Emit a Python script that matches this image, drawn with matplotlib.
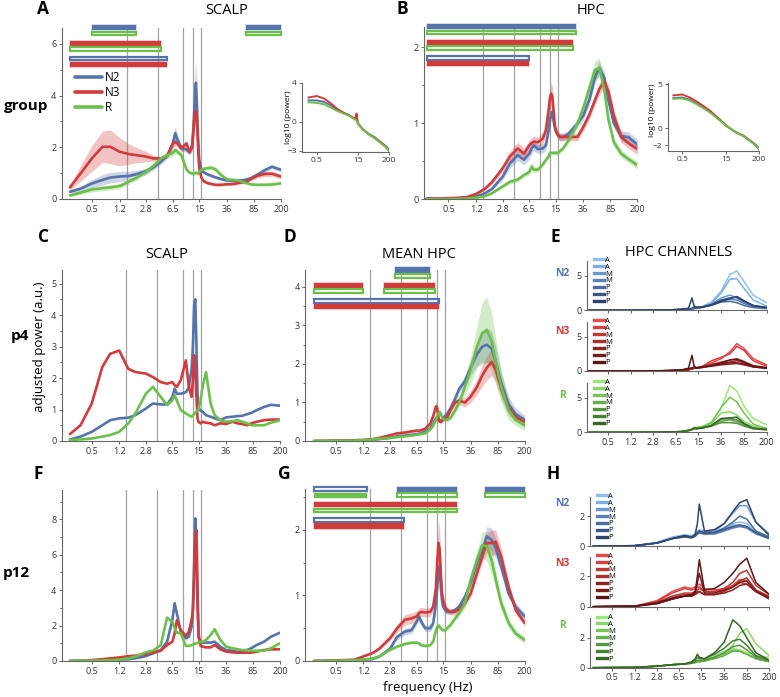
import matplotlib.pyplot as plt
from matplotlib.patches import Rectangle
from matplotlib.colors import to_rgb

plt.rcParams['font.family'] = ['Open Sans', 'DejaVu Sans']

W, H = 780, 697
blue, red, green = '#5673ab', '#d13b3b', '#6cbf4a'
stage_col = {'N2': blue, 'N3': red, 'R': green}

xticks = [0.5, 1.2, 2.8, 6.5, 15, 36, 85, 200]
xtick_labels = ['0.5', '1.2', '2.8', '6.5', '15', '36', '85', '200']
band_edges = [1.5, 4, 9, 12.5, 16]

freqs = [0.25, 0.35, 0.5, 0.7, 0.9, 1.2, 1.6, 2.0, 2.8, 3.5,
         4.5, 5.5, 6.5, 7, 7.5, 8.5, 10, 11, 12, 12.5,
         13, 13.5, 14, 14.5, 15, 16, 17, 19, 22, 25,
         30, 36, 44, 52, 60, 70, 80, 95, 120, 150, 200]

# A: group scalp
a_n2 = [0.28, 0.40, 0.60, 0.74, 0.83, 0.87, 0.89, 0.95, 1.08, 1.22,
        1.45, 1.70, 2.15, 2.55, 2.30, 1.97, 1.92, 1.80, 2.10, 2.80,
        3.80, 4.50, 3.50, 2.30, 1.50, 1.15, 1.05, 0.97, 0.90, 0.84,
        0.77, 0.72, 0.70, 0.71, 0.73, 0.77, 0.83, 0.95, 1.12, 1.25, 1.13]
a_n3 = [0.45, 0.99, 1.57, 2.02, 2.02, 1.83, 1.74, 1.70, 1.64, 1.57,
        1.57, 1.70, 2.15, 2.20, 2.15, 1.96, 2.15, 1.83, 2.00, 2.67,
        3.30, 3.42, 2.93, 1.90, 1.19, 0.84, 0.71, 0.63, 0.58, 0.55,
        0.55, 0.57, 0.58, 0.62, 0.65, 0.70, 0.80, 0.90, 0.97, 0.98, 0.87]
a_r = [0.14, 0.25, 0.37, 0.42, 0.45, 0.50, 0.67, 0.80, 1.06, 1.28,
       1.57, 1.70, 1.79, 1.89, 1.83, 1.70, 1.15, 1.02, 0.99, 0.99,
       1.00, 1.01, 1.00, 0.99, 1.06, 1.12, 1.16, 1.19, 1.21, 1.15,
       0.93, 0.76, 0.74, 0.72, 0.65, 0.60, 0.56, 0.55, 0.55, 0.56, 0.61]
a_n2_sem = [0.05, 0.10, 0.15, 0.20, 0.20, 0.20, 0.18, 0.15, 0.12, 0.10,
            0.10, 0.12, 0.20, 0.25, 0.20, 0.12, 0.10, 0.10, 0.20, 0.40,
            0.70, 0.90, 0.60, 0.30, 0.15, 0.10, 0.08, 0.07, 0.06, 0.06,
            0.05, 0.05, 0.05, 0.05, 0.05, 0.05, 0.06, 0.07, 0.08, 0.08, 0.08]
a_n3_sem = [0.10, 0.30, 0.50, 0.60, 0.65, 0.55, 0.40, 0.30, 0.20, 0.12,
            0.08, 0.10, 0.15, 0.15, 0.15, 0.15, 0.12, 0.10, 0.15, 0.30,
            0.50, 0.60, 0.40, 0.20, 0.10, 0.08, 0.07, 0.06, 0.05, 0.05,
            0.05, 0.05, 0.05, 0.05, 0.06, 0.06, 0.07, 0.08, 0.10, 0.10, 0.10]
a_r_sem = [0.05, 0.08, 0.10, 0.10, 0.10, 0.10, 0.10, 0.10, 0.10, 0.10,
           0.10, 0.12, 0.15, 0.15, 0.12, 0.10, 0.08, 0.07, 0.07, 0.07,
           0.07, 0.07, 0.07, 0.07, 0.07, 0.08, 0.08, 0.08, 0.08, 0.08,
           0.07, 0.06, 0.05, 0.05, 0.05, 0.05, 0.05, 0.05, 0.05, 0.05, 0.05]

# B: group hpc
b_n2 = [0.005, 0.007, 0.01, 0.015, 0.02, 0.035, 0.08, 0.14, 0.30, 0.47,
        0.58, 0.52, 0.60, 0.67, 0.71, 0.66, 0.67, 0.71, 0.91, 1.04,
        1.13, 1.15, 1.04, 0.96, 0.90, 0.85, 0.82, 0.82, 0.85, 0.91,
        1.00, 1.10, 1.32, 1.60, 1.73, 1.60, 1.30, 1.00, 0.83, 0.82, 0.72]
b_n3 = [0.01, 0.01, 0.015, 0.02, 0.03, 0.07, 0.14, 0.23, 0.41, 0.56,
        0.67, 0.60, 0.71, 0.74, 0.76, 0.75, 0.80, 0.91, 1.18, 1.33,
        1.39, 1.35, 1.18, 1.00, 0.91, 0.85, 0.82, 0.82, 0.82, 0.82,
        0.82, 0.95, 1.12, 1.30, 1.45, 1.55, 1.42, 1.10, 0.82, 0.74, 0.66]
b_r = [0.0, 0.0, 0.003, 0.005, 0.01, 0.02, 0.04, 0.08, 0.17, 0.23,
       0.26, 0.32, 0.36, 0.43, 0.39, 0.39, 0.46, 0.52, 0.56, 0.61,
       0.61, 0.61, 0.61, 0.61, 0.61, 0.61, 0.63, 0.67, 0.76, 0.85,
       1.00, 1.20, 1.47, 1.70, 1.73, 1.45, 1.05, 0.75, 0.60, 0.53, 0.45]
b_n2_sem = [0, 0, 0, 0, 0, 0.005, 0.01, 0.02, 0.04, 0.06,
            0.07, 0.07, 0.07, 0.07, 0.07, 0.06, 0.06, 0.06, 0.07, 0.08,
            0.08, 0.08, 0.07, 0.06, 0.05, 0.05, 0.05, 0.05, 0.05, 0.05,
            0.05, 0.06, 0.07, 0.08, 0.09, 0.08, 0.07, 0.07, 0.07, 0.07, 0.07]
b_n3_sem = [0, 0, 0, 0, 0.005, 0.01, 0.02, 0.03, 0.05, 0.07,
            0.08, 0.07, 0.07, 0.07, 0.07, 0.07, 0.07, 0.08, 0.10, 0.12,
            0.15, 0.13, 0.10, 0.08, 0.06, 0.05, 0.05, 0.05, 0.05, 0.05,
            0.05, 0.06, 0.06, 0.07, 0.08, 0.08, 0.08, 0.07, 0.07, 0.07, 0.07]
b_r_sem = [0, 0, 0, 0, 0, 0.005, 0.005, 0.01, 0.02, 0.03,
           0.03, 0.03, 0.04, 0.05, 0.04, 0.03, 0.03, 0.03, 0.03, 0.03,
           0.03, 0.03, 0.03, 0.03, 0.03, 0.03, 0.03, 0.03, 0.04, 0.05,
           0.06, 0.08, 0.10, 0.12, 0.12, 0.10, 0.08, 0.06, 0.05, 0.05, 0.05]

# C: p4 scalp
c_n2 = [0.05, 0.14, 0.29, 0.50, 0.66, 0.72, 0.74, 0.82, 1.03, 1.19,
        1.16, 1.16, 1.40, 1.66, 1.50, 1.50, 1.55, 1.70, 2.30, 3.00,
        4.30, 4.50, 3.00, 1.50, 1.05, 0.96, 0.93, 0.82, 0.77, 0.72,
        0.66, 0.75, 0.77, 0.79, 0.80, 0.85, 0.89, 0.98, 1.08, 1.15, 1.12]
c_n3 = [0.22, 0.50, 1.19, 2.35, 2.77, 2.87, 2.29, 2.19, 2.14, 2.03,
        1.87, 1.82, 1.87, 1.77, 1.72, 1.93, 2.56, 1.72, 1.40, 1.93,
        2.72, 2.40, 1.40, 0.70, 0.61, 0.56, 0.61, 0.58, 0.56, 0.50,
        0.56, 0.54, 0.61, 0.56, 0.54, 0.50, 0.56, 0.61, 0.66, 0.68, 0.68]
c_r = [0.03, 0.05, 0.08, 0.14, 0.19, 0.29, 0.56, 0.87, 1.50, 1.72,
       1.40, 1.14, 1.29, 1.45, 1.29, 0.98, 0.87, 0.82, 0.77, 0.80,
       0.87, 0.90, 0.93, 0.97, 1.03, 1.29, 1.72, 2.19, 1.19, 0.82,
       0.66, 0.61, 0.63, 0.66, 0.61, 0.56, 0.50, 0.50, 0.50, 0.58, 0.66]

# D: p4 mean hpc
d_n2 = [0.0, 0.0, 0.003, 0.005, 0.01, 0.015, 0.03, 0.05, 0.08, 0.12,
        0.14, 0.16, 0.18, 0.19, 0.20, 0.24, 0.32, 0.45, 0.60, 0.60,
        0.55, 0.52, 0.52, 0.55, 0.60, 0.65, 0.70, 0.85, 1.10, 1.35,
        1.55, 1.90, 2.25, 2.45, 2.50, 2.40, 2.05, 1.50, 0.95, 0.70, 0.55]
d_n3 = [0.0, 0.003, 0.01, 0.015, 0.02, 0.03, 0.05, 0.08, 0.15, 0.20,
        0.22, 0.25, 0.27, 0.27, 0.28, 0.32, 0.45, 0.65, 0.90, 0.85,
        0.60, 0.50, 0.50, 0.52, 0.55, 0.58, 0.60, 0.80, 1.00, 1.05,
        1.00, 1.15, 1.40, 1.70, 1.90, 2.05, 1.85, 1.35, 0.85, 0.62, 0.50]
d_r = [0.0, 0.0, 0.003, 0.005, 0.01, 0.02, 0.04, 0.06, 0.08, 0.10,
       0.12, 0.14, 0.16, 0.17, 0.18, 0.20, 0.30, 0.40, 0.55, 0.65,
       0.72, 0.75, 0.70, 0.62, 0.58, 0.55, 0.55, 0.60, 0.80, 1.00,
       1.40, 1.85, 2.45, 2.80, 2.88, 2.60, 2.05, 1.40, 0.80, 0.55, 0.40]
d_n2_sem = [0, 0, 0, 0, 0, 0, 0, 0.005, 0.01, 0.01,
            0.01, 0.02, 0.02, 0.02, 0.02, 0.02, 0.03, 0.04, 0.05, 0.05,
            0.05, 0.05, 0.05, 0.05, 0.05, 0.05, 0.05, 0.06, 0.08, 0.10,
            0.15, 0.20, 0.30, 0.40, 0.45, 0.45, 0.40, 0.30, 0.20, 0.15, 0.12]
d_n3_sem = [0, 0, 0, 0, 0, 0, 0.005, 0.01, 0.02, 0.03,
            0.03, 0.03, 0.03, 0.03, 0.03, 0.03, 0.05, 0.08, 0.10, 0.10,
            0.08, 0.06, 0.05, 0.05, 0.05, 0.05, 0.05, 0.06, 0.08, 0.10,
            0.12, 0.15, 0.20, 0.28, 0.32, 0.35, 0.32, 0.25, 0.18, 0.12, 0.10]
d_r_sem = [0, 0, 0, 0, 0, 0, 0, 0.005, 0.01, 0.01,
           0.01, 0.01, 0.01, 0.01, 0.01, 0.02, 0.03, 0.04, 0.05, 0.06,
           0.07, 0.07, 0.06, 0.05, 0.05, 0.05, 0.05, 0.06, 0.08, 0.12,
           0.20, 0.35, 0.55, 0.80, 0.85, 0.75, 0.60, 0.40, 0.25, 0.15, 0.12]

# F: p12 scalp
f_n2 = [0.0, 0.01, 0.02, 0.03, 0.05, 0.08, 0.10, 0.15, 0.28, 0.43,
        0.62, 1.09, 2.30, 3.26, 2.70, 1.66, 1.28, 1.37, 1.94, 3.00,
        5.50, 8.06, 6.00, 3.00, 1.30, 1.09, 1.04, 1.04, 1.04, 1.09,
        0.81, 0.62, 0.58, 0.53, 0.56, 0.62, 0.72, 0.90, 1.09, 1.37, 1.60]
f_n3 = [0.0, 0.02, 0.05, 0.10, 0.15, 0.20, 0.27, 0.30, 0.40, 0.47,
        0.58, 0.90, 1.09, 1.56, 2.30, 1.75, 1.41, 1.66, 2.32, 2.80,
        4.50, 7.00, 7.40, 4.00, 1.50, 0.85, 0.81, 0.77, 0.77, 0.90,
        0.66, 0.53, 0.49, 0.47, 0.47, 0.47, 0.47, 0.53, 0.62, 0.66, 0.66]
f_r = [0.0, 0.01, 0.02, 0.03, 0.05, 0.08, 0.15, 0.25, 0.49, 0.58,
       0.90, 2.45, 2.20, 1.85, 1.60, 1.56, 0.85, 0.85, 0.90, 0.93,
       0.96, 0.98, 1.00, 1.02, 1.04, 1.09, 1.09, 1.19, 1.47, 1.79,
       1.19, 0.81, 0.72, 0.66, 0.62, 0.62, 0.58, 0.58, 0.58, 0.72, 1.00]

# G: p12 mean hpc
g_n2 = [0.0, 0.0, 0.005, 0.007, 0.01, 0.02, 0.03, 0.07, 0.19, 0.37,
        0.45, 0.47, 0.60, 0.68, 0.60, 0.50, 0.50, 0.58, 0.88, 1.13,
        1.44, 1.39, 1.13, 0.93, 0.83, 0.78, 0.75, 0.75, 0.78, 0.83,
        0.98, 1.19, 1.49, 1.69, 1.90, 1.85, 1.72, 1.44, 1.03, 0.83, 0.68]
g_n3 = [0.0, 0.005, 0.01, 0.015, 0.02, 0.07, 0.12, 0.19, 0.35, 0.50,
        0.63, 0.65, 0.68, 0.73, 0.75, 0.74, 0.75, 0.83, 1.13, 1.54,
        1.80, 1.69, 1.34, 1.03, 0.93, 0.83, 0.78, 0.75, 0.75, 0.79,
        0.88, 1.03, 1.34, 1.59, 1.80, 1.80, 1.82, 1.59, 1.13, 0.78, 0.58]
g_r = [0.0, 0.0, 0.005, 0.007, 0.01, 0.02, 0.04, 0.07, 0.17, 0.22,
       0.26, 0.28, 0.28, 0.27, 0.24, 0.23, 0.24, 0.30, 0.47, 0.52,
       0.54, 0.52, 0.50, 0.48, 0.47, 0.47, 0.50, 0.55, 0.65, 0.73,
       0.88, 1.24, 1.54, 1.77, 1.75, 1.54, 1.24, 0.88, 0.58, 0.42, 0.32]
g_n2_sem = [0, 0, 0, 0, 0, 0, 0.005, 0.01, 0.02, 0.04,
            0.05, 0.05, 0.05, 0.05, 0.05, 0.05, 0.05, 0.05, 0.08, 0.12,
            0.15, 0.15, 0.12, 0.08, 0.05, 0.04, 0.04, 0.04, 0.04, 0.05,
            0.05, 0.06, 0.08, 0.10, 0.15, 0.18, 0.15, 0.10, 0.07, 0.06, 0.05]
g_n3_sem = [0, 0, 0, 0, 0, 0.01, 0.01, 0.02, 0.04, 0.06,
            0.08, 0.08, 0.08, 0.08, 0.07, 0.07, 0.07, 0.08, 0.12, 0.25,
            0.35, 0.30, 0.20, 0.12, 0.08, 0.06, 0.05, 0.05, 0.05, 0.05,
            0.05, 0.06, 0.08, 0.10, 0.15, 0.20, 0.18, 0.12, 0.08, 0.06, 0.05]
g_r_sem = [0, 0, 0, 0, 0, 0, 0.005, 0.01, 0.01, 0.02,
           0.02, 0.02, 0.02, 0.02, 0.02, 0.02, 0.02, 0.02, 0.03, 0.03,
           0.04, 0.04, 0.03, 0.03, 0.03, 0.03, 0.03, 0.03, 0.04, 0.05,
           0.07, 0.10, 0.15, 0.20, 0.22, 0.20, 0.15, 0.10, 0.07, 0.06, 0.05]

# insets: log10 power
inset_f = [0.25, 0.5, 0.9, 1.6, 2.8, 4.5, 7, 10, 12.5, 13.5, 15, 22, 36, 60, 95, 150, 200]
ia_n2 = [2.2, 2.2, 2.05, 1.7, 1.2, 0.9, 0.7, 0.4, 0.4, 0.65, -0.15, -0.75, -1.25, -1.6, -2.05, -2.5, -2.9]
ia_n3 = [2.5, 2.65, 2.4, 1.9, 1.3, 0.95, 0.7, 0.4, 0.4, 0.85, -0.15, -0.75, -1.25, -1.65, -2.1, -2.55, -2.95]
ia_r = [2.0, 1.95, 1.8, 1.45, 1.1, 0.85, 0.65, 0.35, 0.2, 0.1, -0.1, -0.75, -1.3, -1.7, -2.15, -2.6, -3.05]
ib_n2 = [3.45, 3.5, 3.25, 2.8, 2.3, 1.85, 1.3, 0.85, 0.55, 0.45, 0.3, -0.1, -0.55, -0.9, -1.4, -1.9, -2.4]
ib_n3 = [3.75, 3.85, 3.5, 3.0, 2.45, 1.95, 1.35, 0.9, 0.55, 0.45, 0.3, -0.1, -0.55, -0.9, -1.4, -1.9, -2.35]
ib_r = [3.35, 3.4, 3.15, 2.7, 2.2, 1.75, 1.2, 0.8, 0.5, 0.4, 0.25, -0.1, -0.55, -0.95, -1.45, -1.95, -2.45]

# significant ranges: (stage, stage, f_from, f_to, higher stage)
a_sig = [('N2', 'R', 0.5, 2.0, 'N2'), ('N2', 'R', 66, 200, 'N2'),
         ('N3', 'R', 0.25, 4.4, 'N3'), ('N2', 'N3', 0.25, 5.45, 'N3')]
b_sig = [('N2', 'R', 0.25, 29, 'N2'), ('N3', 'R', 0.25, 25.7, 'N3'),
         ('N2', 'N3', 0.25, 6.4, 'N3')]
d_sig = [('N2', 'R', 3.3, 9.9, 'N2'), ('N3', 'R', 0.25, 1.2, 'N3'),
         ('N3', 'R', 2.33, 11.6, 'N3'), ('N2', 'N3', 0.25, 13.2, 'N3')]
g_sig = [('N2', 'R', 0.25, 1.36, 'R'), ('N2', 'R', 3.45, 23, 'N2'),
         ('N2', 'R', 56.6, 200, 'N2'), ('N3', 'R', 0.25, 23.6, 'N3'),
         ('N2', 'N3', 0.25, 4.4, 'N3')]

# hpc channels
chan_freqs = [0.25, 1.2, 2.8, 5, 8, 10.5, 12, 13, 14, 17, 25, 36, 50, 65, 85, 120, 200]
chan_names = ['A', 'A', 'M', 'M', 'P', 'P', 'P']
e_n2 = [[0, 0, 0.02, 0.05, 0.1, 0.15, 0.25, 0.3, 0.35, 0.5, 1.2, 2.8, 5.2, 5.7, 4.2, 2.2, 1.1],
        [0, 0, 0.02, 0.05, 0.1, 0.15, 0.2, 0.3, 0.3, 0.45, 1.0, 2.5, 4.5, 4.6, 3.2, 1.5, 0.6],
        [0, 0, 0.02, 0.05, 0.1, 0.15, 0.2, 0.3, 0.3, 0.4, 0.9, 1.8, 2.2, 1.8, 1.1, 0.6, 0.35],
        [0, 0, 0.02, 0.05, 0.1, 0.12, 0.18, 0.25, 0.3, 0.4, 0.8, 1.4, 1.6, 1.5, 1.0, 0.5, 0.3],
        [0, 0, 0.02, 0.05, 0.1, 0.15, 0.2, 0.3, 0.3, 0.4, 0.7, 1.2, 1.3, 1.1, 0.7, 0.4, 0.25],
        [0, 0, 0.02, 0.05, 0.15, 0.2, 0.3, 0.5, 0.3, 0.45, 0.8, 1.5, 1.8, 1.9, 1.3, 0.7, 0.4],
        [0, 0, 0.02, 0.06, 0.15, 0.3, 1.8, 0.6, 0.5, 0.45, 0.8, 1.3, 1.7, 2.0, 1.4, 0.7, 0.4]]
e_n3 = [[0, 0, 0.02, 0.05, 0.12, 0.2, 0.35, 0.45, 0.45, 0.6, 1.2, 1.8, 2.8, 4.0, 3.3, 1.8, 0.9],
        [0, 0, 0.02, 0.05, 0.12, 0.2, 0.35, 0.45, 0.45, 0.6, 1.5, 2.0, 2.5, 3.6, 3.0, 1.5, 0.7],
        [0, 0, 0.02, 0.05, 0.1, 0.18, 0.3, 0.4, 0.4, 0.55, 1.0, 1.3, 1.6, 1.8, 1.4, 0.8, 0.5],
        [0, 0, 0.02, 0.05, 0.1, 0.18, 0.3, 0.4, 0.4, 0.5, 0.8, 1.1, 1.3, 1.5, 1.2, 0.7, 0.45],
        [0, 0, 0.02, 0.05, 0.1, 0.2, 0.3, 0.4, 0.4, 0.5, 0.7, 0.9, 1.0, 1.1, 0.9, 0.6, 0.4],
        [0, 0, 0.02, 0.05, 0.12, 0.3, 0.5, 0.5, 0.45, 0.55, 0.8, 1.0, 1.2, 1.2, 1.0, 0.6, 0.4],
        [0, 0, 0.02, 0.06, 0.15, 0.4, 2.3, 0.7, 0.5, 0.55, 0.8, 1.2, 1.6, 1.7, 1.3, 0.7, 0.45]]
e_r = [[0, 0, 0.02, 0.05, 0.1, 0.3, 0.5, 0.7, 0.7, 0.8, 1.5, 3.5, 6.8, 6.0, 3.8, 2.0, 1.1],
       [0, 0, 0.02, 0.05, 0.1, 0.3, 0.5, 0.7, 0.7, 0.8, 1.3, 2.8, 3.0, 2.5, 1.6, 0.9, 0.6],
       [0, 0, 0.02, 0.05, 0.1, 0.3, 0.5, 0.6, 0.65, 0.7, 1.4, 3.6, 5.1, 4.4, 2.8, 1.2, 0.5],
       [0, 0, 0.02, 0.05, 0.1, 0.25, 0.4, 0.5, 0.55, 0.6, 0.9, 1.6, 1.8, 1.5, 1.0, 0.6, 0.4],
       [0, 0, 0.02, 0.05, 0.1, 0.25, 0.4, 0.5, 0.5, 0.6, 0.9, 1.4, 1.4, 1.3, 0.9, 0.5, 0.35],
       [0, 0, 0.02, 0.05, 0.1, 0.25, 0.4, 0.6, 0.55, 0.6, 1.0, 1.9, 2.0, 1.8, 1.2, 0.6, 0.4],
       [0, 0, 0.02, 0.05, 0.1, 0.25, 0.4, 0.6, 0.55, 0.6, 1.0, 2.0, 2.1, 2.2, 1.3, 0.6, 0.4]]
h_n2 = [[0, 0.02, 0.25, 0.6, 0.75, 0.7, 0.8, 1.0, 1.1, 1.0, 1.0, 1.2, 1.5, 1.6, 1.5, 1.0, 0.6],
        [0, 0.02, 0.2, 0.55, 0.7, 0.65, 0.75, 0.9, 1.0, 0.9, 0.9, 1.1, 1.4, 1.4, 1.3, 0.9, 0.5],
        [0, 0.02, 0.2, 0.5, 0.65, 0.6, 0.7, 0.9, 1.0, 0.9, 1.0, 1.5, 2.2, 2.7, 2.7, 1.6, 0.8],
        [0, 0.02, 0.2, 0.5, 0.6, 0.55, 0.65, 0.8, 0.9, 0.8, 0.8, 1.0, 1.2, 1.3, 1.2, 0.8, 0.5],
        [0, 0.02, 0.2, 0.5, 0.6, 0.55, 0.65, 0.8, 0.9, 0.8, 0.9, 1.2, 1.6, 2.0, 1.8, 1.0, 0.6],
        [0, 0.02, 0.2, 0.5, 0.65, 0.6, 0.7, 0.9, 1.0, 0.9, 0.9, 1.1, 1.3, 1.4, 1.3, 0.9, 0.5],
        [0, 0.02, 0.2, 0.5, 0.7, 0.6, 0.8, 1.5, 2.8, 1.0, 1.1, 1.5, 2.3, 2.9, 3.1, 1.6, 0.7]]
h_n3 = [[0, 0.03, 0.4, 1.0, 1.3, 1.2, 1.3, 1.4, 1.5, 1.2, 1.1, 1.2, 1.4, 1.8, 1.7, 1.1, 0.7],
        [0, 0.03, 0.35, 0.9, 1.2, 1.1, 1.2, 1.3, 1.3, 1.0, 1.0, 1.1, 1.3, 1.6, 1.5, 1.0, 0.6],
        [0, 0.03, 0.3, 0.7, 0.9, 0.9, 1.0, 1.1, 1.2, 1.0, 1.0, 1.2, 1.6, 2.2, 2.4, 1.4, 0.8],
        [0, 0.03, 0.25, 0.6, 0.8, 0.8, 0.9, 1.0, 1.0, 0.8, 0.8, 1.0, 1.3, 1.7, 1.9, 1.1, 0.6],
        [0, 0.03, 0.2, 0.5, 0.7, 0.7, 0.8, 0.9, 1.0, 0.8, 0.8, 0.9, 1.1, 1.4, 1.5, 1.0, 0.5],
        [0, 0.03, 0.2, 0.5, 0.7, 0.7, 0.9, 1.6, 2.2, 0.9, 0.9, 1.1, 1.3, 1.6, 1.7, 1.0, 0.6],
        [0, 0.03, 0.25, 0.55, 0.7, 0.8, 1.0, 2.0, 3.1, 1.1, 1.2, 1.6, 2.2, 2.8, 3.2, 1.6, 0.8]]
h_r = [[0, 0.02, 0.1, 0.2, 0.25, 0.3, 0.35, 0.4, 0.4, 0.5, 0.8, 1.1, 1.3, 1.2, 1.0, 0.8, 0.7],
       [0, 0.02, 0.1, 0.2, 0.25, 0.3, 0.35, 0.4, 0.4, 0.45, 0.7, 1.0, 1.5, 2.3, 2.6, 1.6, 0.8],
       [0, 0.02, 0.1, 0.2, 0.25, 0.3, 0.35, 0.4, 0.4, 0.45, 0.7, 0.9, 1.2, 1.1, 0.9, 0.6, 0.4],
       [0, 0.02, 0.1, 0.2, 0.25, 0.3, 0.35, 0.4, 0.4, 0.45, 0.6, 0.8, 1.1, 1.1, 0.9, 0.6, 0.4],
       [0, 0.02, 0.1, 0.2, 0.25, 0.3, 0.4, 0.5, 0.5, 0.5, 0.7, 1.0, 1.4, 1.5, 1.2, 0.7, 0.4],
       [0, 0.02, 0.1, 0.2, 0.25, 0.35, 0.5, 0.7, 0.6, 0.6, 0.9, 1.3, 1.8, 1.9, 1.5, 0.8, 0.5],
       [0, 0.02, 0.1, 0.2, 0.25, 0.4, 0.6, 0.9, 0.7, 0.6, 1.0, 1.7, 3.2, 2.8, 2.0, 1.0, 0.5]]
n2_shades = ['#8fbff2', '#7eaee6', '#6b97d0', '#5a80b6', '#4a6b9c', '#3c5783', '#2e4468']
n3_shades = ['#ea4a4a', '#da3e3e', '#c63535', '#aa2c2c', '#8e2323', '#751c1c', '#5b1414']
r_shades = ['#9ae87a', '#88d868', '#76c458', '#66ae4a', '#56963e', '#467e32', '#386626']


fig = plt.figure(figsize=(W / 100, H / 100), dpi=100)


def pbox(x0, y0, x1, y1):
    return [x0 / W, 1 - y1 / H, (x1 - x0) / W, (y1 - y0) / H]


def ftext(x, y, s, **kw):
    fig.text(x / W, 1 - y / H, s, ha='center', va='center', **kw)


def style(ax, xleft, ylim, yticks, yminor=(), ticks=xticks, labels=xtick_labels, size=6.5):
    ax.set_xscale('log')
    ax.set_xlim(xleft, 200)
    ax.set_ylim(*ylim)
    ax.set_xticks(ticks)
    ax.set_xticklabels(labels)
    ax.xaxis.set_minor_locator(plt.NullLocator())
    ax.set_yticks(yticks)
    ax.set_yticks(list(yminor), minor=True)
    for s in ['top', 'right']:
        ax.spines[s].set_visible(False)
    for s in ['left', 'bottom']:
        ax.spines[s].set_color('#666666')
        ax.spines[s].set_linewidth(0.8)
    ax.tick_params(which='both', direction='out', color='#666666', width=0.7,
                   labelsize=size, labelcolor='#333333', pad=1.5)
    ax.tick_params(which='major', length=2.5)
    ax.tick_params(which='minor', length=1.8)


def spectra(ax, series, sems=None):
    cols = [blue, red, green]
    if sems:
        for vals, sem, col in zip(series, sems, cols):
            lo = [v - s for v, s in zip(vals, sem)]
            hi = [v + s for v, s in zip(vals, sem)]
            ax.fill_between(freqs, lo, hi, color=col, alpha=0.3, lw=0, zorder=2)
    lines = []
    for vals, col in zip(series, cols):
        lines += ax.plot(freqs, vals, color=col, lw=1.9, zorder=3, solid_capstyle='round')
    for f in band_edges:
        ax.axvline(f, color='#a3a3a3', lw=0.9, zorder=1)
    return lines


def sig_bars(ax, sig):
    rows = {('N2', 'R'): 0, ('N3', 'R'): 1, ('N2', 'N3'): 2}
    tr = ax.get_xaxis_transform()
    for s1, s2, f0, f1, hi in sig:
        row = rows[(s1, s2)]
        for k, st in enumerate([s1, s2]):
            top = 1.015 - 0.09 * row - 0.034 * k
            col = stage_col[st]
            if st == hi:
                r = Rectangle((f0, top - 0.03), f1 - f0, 0.03, transform=tr, clip_on=False,
                              facecolor=col, edgecolor=(*to_rgb(col), 0.3), lw=1.2, zorder=4)
            else:
                r = Rectangle((f0, top - 0.026), f1 - f0, 0.022, transform=tr, clip_on=False,
                              facecolor='none', edgecolor=col, lw=1.6, zorder=4)
            ax.add_patch(r)


def inset(box, series, ylim, yticks, xleft):
    ax = fig.add_axes(pbox(*box))
    for vals, col in zip(series, [blue, red, green]):
        ax.plot(inset_f, vals, color=col, lw=1.4)
    style(ax, xleft, ylim, yticks, ticks=[0.5, 15, 200], labels=['0.5', '15', '200'], size=6)
    return ax


def channels(box, values, shades, ylim, ytick, xleft, bottom):
    ax = fig.add_axes(pbox(*box))
    hs = []
    for v, c in zip(values, shades):
        hs += ax.plot(chan_freqs, v, color=c, lw=1.1)
    leg = ax.legend(hs, chan_names, loc='upper left', bbox_to_anchor=(0.04, 1.09),
                    frameon=False, fontsize=5.5, handlelength=1.3, handletextpad=0.1,
                    labelspacing=-0.05, borderaxespad=0, borderpad=0)
    for ln in leg.get_lines():
        ln.set_linewidth(2.4)
    style(ax, xleft, ylim, [0, ytick], labels=xtick_labels if bottom else [])
    return ax


# A
axA = fig.add_axes(pbox(62, 27.7, 281, 199))
hs = spectra(axA, [a_n2, a_n3, a_r], [a_n2_sem, a_n3_sem, a_r_sem])
style(axA, 0.194, (0, 6.63), [0, 2, 4, 6], [1, 3, 5])
sig_bars(axA, a_sig)
leg = axA.legend(hs, ['N2', 'N3', 'R'], loc='upper left', bbox_to_anchor=(0.06, 0.745),
                 frameon=False, fontsize=8.5, handlelength=2.3, handletextpad=0.2,
                 labelspacing=0.15, borderaxespad=0, borderpad=0)
for ln in leg.get_lines():
    ln.set_linewidth(2.6)
inset((302.3, 82.7, 389, 151.7), [ia_n2, ia_n3, ia_r], (-3.1, 4.03), [-3, 0, 4], 0.15)

# B
axB = fig.add_axes(pbox(424, 26.7, 637.3, 199.3))
spectra(axB, [b_n2, b_n3, b_r], [b_n2_sem, b_n3_sem, b_r_sem])
style(axB, 0.23, (0, 2.27), [0, 1, 2], [0.5, 1.5])
sig_bars(axB, b_sig)
inset((667.7, 82.7, 759, 150.7), [ib_n2, ib_n3, ib_r], (-2.6, 5.2), [-2, 0, 5], 0.16)

# C
axC = fig.add_axes(pbox(62, 270, 280, 441))
spectra(axC, [c_n2, c_n3, c_r])
style(axC, 0.194, (0, 5.43), [0, 1, 2, 3, 4, 5], [0.5, 1.5, 2.5, 3.5, 4.5])

# D
axD = fig.add_axes(pbox(305.3, 270, 524.7, 441))
spectra(axD, [d_n2, d_n3, d_r], [d_n2_sem, d_n3_sem, d_r_sem])
style(axD, 0.19, (0, 4.44), [0, 1, 2, 3, 4], [0.5, 1.5, 2.5, 3.5])
sig_bars(axD, d_sig)

# F
axF = fig.add_axes(pbox(62, 490, 280, 661))
spectra(axF, [f_n2, f_n3, f_r])
style(axF, 0.194, (0, 9.66), [0, 2, 4, 6, 8], [1, 3, 5, 7, 9])

# G
axG = fig.add_axes(pbox(305.3, 489.3, 524.7, 661))
spectra(axG, [g_n2, g_n3, g_r], [g_n2_sem, g_n3_sem, g_r_sem])
style(axG, 0.19, (0, 2.62), [0, 1, 2], [0.5, 1.5, 2.5])
sig_bars(axG, g_sig)

# E
channels((587, 260.7, 766.7, 310.3), e_n2, n2_shades, (0, 7.2), 5, 0.23, False)
channels((587, 321.7, 766.7, 371), e_n3, n3_shades, (0, 7.2), 5, 0.23, False)
channels((587, 382.7, 766.7, 432.3), e_r, r_shades, (0, 7.2), 5, 0.23, True)

# H
channels((590, 496.7, 769.3, 546), h_n2, n2_shades, (0, 3.3), 2, 0.22, False)
channels((590, 556.7, 769.3, 606.7), h_n3, n3_shades, (0, 3.3), 2, 0.22, False)
channels((590, 618.3, 769.3, 667.7), h_r, r_shades, (0, 3.3), 2, 0.22, True)

# text
for s, x, y in [('A', 43, 9), ('B', 402, 9), ('C', 44, 237), ('D', 290, 237),
                ('E', 555, 237), ('F', 38, 474), ('G', 284, 474), ('H', 553, 474)]:
    ftext(x, y, s, fontsize=12.5, fontweight='bold')
ftext(227, 11, 'SCALP', fontsize=10.5)
ftext(591, 11, 'HPC', fontsize=10.5)
ftext(167, 255, 'SCALP', fontsize=10.5)
ftext(419, 255, 'MEAN HPC', fontsize=10.5)
ftext(679, 252, 'HPC CHANNELS', fontsize=10.5)
ftext(26, 106, 'group', fontsize=11, fontweight='bold')
ftext(20, 336, 'p4', fontsize=11, fontweight='bold')
ftext(16, 573, 'p12', fontsize=11, fontweight='bold')
ftext(39, 347, 'adjusted power (a.u.)', fontsize=9.5, rotation=90)
ftext(428, 688, 'frequency (Hz)', fontsize=9.5)
ftext(289, 117, 'log10 (power)', fontsize=6, rotation=90)
ftext(652, 110, 'log10 (power)', fontsize=6, rotation=90)
for s, y1, y2 in [('N2', 274, 503), ('N3', 332, 563), ('R', 395, 626)]:
    ftext(562, y1, s, fontsize=7.5, fontweight='bold', color=stage_col[s])
    ftext(562, y2, s, fontsize=7.5, fontweight='bold', color=stage_col[s])

fig.savefig('out.png', dpi=100)
